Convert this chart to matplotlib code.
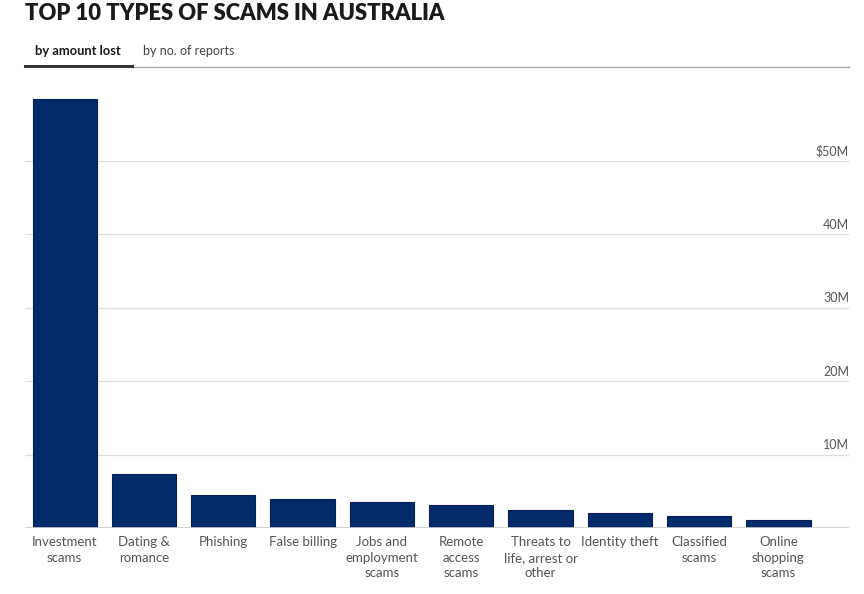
import matplotlib.pyplot as plt
from matplotlib.lines import Line2D

plt.rcParams['font.family'] = ['Lato', 'DejaVu Sans']

# losses in $ millions
categories = ["Investment\nscams", "Dating &\nromance", "Phishing", "False billing",
              "Jobs and\nemployment\nscams", "Remote\naccess\nscams",
              "Threats to\nlife, arrest or\nother", "Identity theft",
              "Classified\nscams", "Online\nshopping\nscams"]
amount_lost = [58.4, 7.3, 4.5, 4.0, 3.6, 3.1, 2.45, 2.1, 1.6, 1.1]
tick_values = [10, 20, 30, 40, 50]
tick_labels = ["10M", "20M", "30M", "40M", "$50M"]

fig = plt.figure(figsize=(8.64, 5.94), dpi=100)
ax = fig.add_axes([25 / 864, 66 / 594, 824 / 864, 448 / 594])

x = list(range(len(categories)))
ax.bar(x, amount_lost, width=0.81, color="#022b6c", edgecolor="#0a1f55", linewidth=0.8, zorder=3)

ax.set_xlim(-0.5, 9.89)
ax.set_ylim(0, 61.0)

for v, lab in zip(tick_values, tick_labels):
    ax.axhline(v, color="#dddddd", linewidth=0.9, zorder=1)
    ax.text(9.89, v + 0.45, lab, ha="right", va="bottom", fontsize=9, color="#555555")
ax.axhline(0, color="#cccccc", linewidth=1.2, zorder=4)

for s in ax.spines.values():
    s.set_visible(False)
ax.set_yticks([])
ax.set_xticks(x)
ax.set_xticklabels(categories, fontsize=9.5, color="#555555", linespacing=1.35, va="top")
ax.tick_params(axis="x", length=0, pad=6)

# title and tabs
fig.text(25 / 864, 1 - 13 / 594, "TOP 10 TYPES OF SCAMS IN AUSTRALIA", fontsize=15.8,
         fontweight="heavy", color="#1a1a1a", va="center", ha="left")
fig.text(35 / 864, 1 - 51 / 594, "by amount lost", fontsize=9.3, fontweight="bold",
         color="#1a1a1a", va="center", ha="left")
fig.text(143 / 864, 1 - 51 / 594, "by no. of reports", fontsize=9,
         color="#444444", va="center", ha="left")
fig.add_artist(Line2D([132 / 864, 849 / 864], [1 - 67 / 594, 1 - 67 / 594],
                      color="#aaaaaa", linewidth=1, transform=fig.transFigure))
fig.add_artist(Line2D([25 / 864, 132 / 864], [1 - 66 / 594, 1 - 66 / 594],
                      color="#333333", linewidth=2.2, transform=fig.transFigure))

fig.savefig("out.png", dpi=100)
